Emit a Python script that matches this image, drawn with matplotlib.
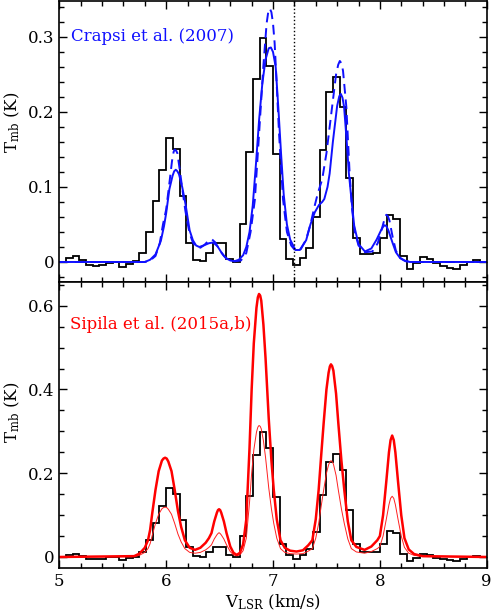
import numpy as np
import matplotlib
matplotlib.use('Agg')
import matplotlib.pyplot as plt
from matplotlib.ticker import MultipleLocator, FuncFormatter

plt.rcParams['font.family'] = ['DejaVu Serif']
plt.rcParams['mathtext.fontset'] = 'dejavuserif'

# observed spectrum (channels of 0.0625 km/s starting at 5 km/s)
v_start = 5.0
chan_width = 0.0625
t_obs = [0.000, 0.005, 0.008, 0.003, -0.004, -0.006, -0.004, -0.001, 0.000, -0.007,
         -0.003, 0.001, 0.012, 0.040, 0.081, 0.122, 0.165, 0.151, 0.088, 0.025,
         0.003, 0.001, 0.012, 0.025, 0.025, 0.004, 0.000, 0.051, 0.146, 0.244,
         0.299, 0.261, 0.144, 0.030, 0.004, -0.004, 0.005, 0.018, 0.060, 0.149,
         0.227, 0.247, 0.207, 0.112, 0.032, 0.011, 0.011, 0.012, 0.032, 0.062,
         0.057, 0.008, -0.010, -0.002, 0.006, 0.004, -0.002, -0.006, -0.008, -0.009,
         -0.004, 0.000, 0.002, 0.000]

# Crapsi et al. (2007) models
v_crapsi_solid = [5.00, 5.80, 5.85, 5.90, 5.95, 5.98, 6.00, 6.03, 6.06, 6.075,
                  6.09, 6.105, 6.12, 6.15, 6.18, 6.20, 6.22, 6.25, 6.28, 6.31,
                  6.35, 6.40, 6.44, 6.48, 6.52, 6.56, 6.60, 6.64, 6.68, 6.72,
                  6.75, 6.78, 6.81, 6.84, 6.87, 6.90, 6.93, 6.96, 6.98, 7.00,
                  7.025, 7.05, 7.075, 7.10, 7.13, 7.16, 7.21, 7.25, 7.31, 7.35,
                  7.39, 7.43, 7.46, 7.48, 7.51, 7.53, 7.56, 7.60, 7.62, 7.635,
                  7.65, 7.665, 7.69, 7.71, 7.74, 7.76, 7.80, 7.86, 7.92, 7.97,
                  8.01, 8.03, 8.045, 8.06, 8.08, 8.12, 8.15, 8.185, 8.23, 8.28,
                  9.00]
t_crapsi_solid = [0.0, 0.0, 0.003, 0.010, 0.028, 0.048, 0.065, 0.097, 0.115, 0.121,
                  0.123, 0.121, 0.117, 0.100, 0.078, 0.060, 0.042, 0.029, 0.022, 0.020,
                  0.022, 0.025, 0.026, 0.021, 0.012, 0.005, 0.002, 0.001, 0.003, 0.009,
                  0.020, 0.040, 0.075, 0.130, 0.190, 0.238, 0.270, 0.285, 0.286, 0.280,
                  0.260, 0.205, 0.145, 0.090, 0.050, 0.030, 0.016, 0.016, 0.029, 0.050,
                  0.066, 0.076, 0.080, 0.084, 0.100, 0.118, 0.160, 0.208, 0.221, 0.224,
                  0.219, 0.207, 0.160, 0.118, 0.075, 0.048, 0.024, 0.014, 0.018, 0.030,
                  0.042, 0.047, 0.049, 0.048, 0.042, 0.025, 0.013, 0.006, 0.002, 0.0,
                  0.0]

v_crapsi_dash = [5.00, 5.80, 5.85, 5.90, 5.94, 5.97, 6.00, 6.03, 6.055, 6.07,
                 6.08, 6.095, 6.105, 6.13, 6.16, 6.18, 6.20, 6.22, 6.25, 6.28,
                 6.32, 6.36, 6.40, 6.43, 6.46, 6.50, 6.54, 6.58, 6.64, 6.70,
                 6.75, 6.79, 6.83, 6.87, 6.91, 6.94, 6.955, 6.97, 6.985, 7.00,
                 7.015, 7.03, 7.056, 7.094, 7.13, 7.17, 7.21, 7.26, 7.31, 7.35,
                 7.39, 7.42, 7.46, 7.50, 7.53, 7.56, 7.59, 7.61, 7.625, 7.64,
                 7.655, 7.686, 7.717, 7.74, 7.765, 7.80, 7.86, 7.93, 7.98, 8.02,
                 8.045, 8.06, 8.075, 8.09, 8.12, 8.15, 8.19, 8.24, 8.30, 9.00]
t_crapsi_dash = [0.0, 0.0, 0.002, 0.008, 0.025, 0.050, 0.070, 0.105, 0.135, 0.147,
                 0.150, 0.148, 0.145, 0.120, 0.088, 0.068, 0.052, 0.038, 0.026, 0.020,
                 0.019, 0.023, 0.029, 0.030, 0.026, 0.016, 0.008, 0.003, 0.001, 0.002,
                 0.012, 0.040, 0.083, 0.172, 0.262, 0.318, 0.333, 0.338, 0.333, 0.318,
                 0.292, 0.250, 0.172, 0.083, 0.040, 0.022, 0.015, 0.017, 0.030, 0.050,
                 0.075, 0.092, 0.110, 0.145, 0.180, 0.215, 0.250, 0.263, 0.268, 0.265,
                 0.255, 0.207, 0.118, 0.070, 0.040, 0.022, 0.013, 0.014, 0.025, 0.045,
                 0.058, 0.063, 0.061, 0.055, 0.033, 0.015, 0.005, 0.001, 0.0, 0.0]

# Sipila et al. (2015a,b) models
v_sipila = [5.00, 5.70, 5.75, 5.80, 5.83, 5.85, 5.87, 5.90, 5.93, 5.96,
            5.975, 5.99, 6.005, 6.02, 6.05, 6.08, 6.11, 6.14, 6.175, 6.22,
            6.27, 6.32, 6.37, 6.40, 6.424, 6.45, 6.475, 6.485, 6.495, 6.505,
            6.515, 6.54, 6.565, 6.60, 6.63, 6.66, 6.69, 6.72, 6.75, 6.78,
            6.80, 6.82, 6.845, 6.858, 6.869, 6.88, 6.89, 6.91, 6.93, 6.96,
            6.985, 7.007, 7.035, 7.07, 7.11, 7.16, 7.22, 7.28, 7.33, 7.368,
            7.40, 7.427, 7.45, 7.474, 7.50, 7.52, 7.532, 7.542, 7.553, 7.565,
            7.59, 7.611, 7.64, 7.667, 7.70, 7.733, 7.78, 7.857, 7.92, 7.976,
            8.00, 8.03, 8.06, 8.085, 8.10, 8.115, 8.13, 8.145, 8.17, 8.20,
            8.23, 8.27, 8.32, 8.40, 9.00]
t_sipila_thick = [0.000, 0.002, 0.008, 0.022, 0.040, 0.065, 0.105, 0.160, 0.205, 0.230,
                  0.235, 0.237, 0.235, 0.228, 0.205, 0.160, 0.110, 0.072, 0.040, 0.022,
                  0.017, 0.022, 0.034, 0.045, 0.057, 0.085, 0.106, 0.112, 0.114, 0.112,
                  0.106, 0.085, 0.057, 0.025, 0.010, 0.005, 0.010, 0.030, 0.090, 0.260,
                  0.400, 0.510, 0.595, 0.620, 0.628, 0.624, 0.612, 0.555, 0.475, 0.330,
                  0.230, 0.160, 0.090, 0.040, 0.022, 0.015, 0.013, 0.016, 0.028, 0.040,
                  0.090, 0.160, 0.240, 0.320, 0.400, 0.440, 0.455, 0.460, 0.456, 0.445,
                  0.390, 0.320, 0.230, 0.160, 0.085, 0.040, 0.024, 0.017, 0.025, 0.040,
                  0.050, 0.100, 0.180, 0.250, 0.279, 0.290, 0.279, 0.250, 0.180, 0.100,
                  0.045, 0.018, 0.007, 0.002, 0.000]
t_sipila_thin = [0.000, 0.001, 0.004, 0.011, 0.020, 0.032, 0.052, 0.080, 0.102, 0.115,
                 0.118, 0.119, 0.118, 0.114, 0.102, 0.080, 0.055, 0.036, 0.020, 0.011,
                 0.009, 0.011, 0.017, 0.023, 0.029, 0.043, 0.053, 0.056, 0.058, 0.056,
                 0.053, 0.043, 0.029, 0.013, 0.005, 0.003, 0.005, 0.015, 0.045, 0.130,
                 0.200, 0.255, 0.298, 0.310, 0.314, 0.312, 0.306, 0.278, 0.238, 0.165,
                 0.115, 0.080, 0.045, 0.020, 0.011, 0.008, 0.007, 0.008, 0.014, 0.020,
                 0.045, 0.080, 0.120, 0.160, 0.200, 0.220, 0.227, 0.230, 0.228, 0.222,
                 0.195, 0.160, 0.115, 0.080, 0.043, 0.020, 0.012, 0.009, 0.013, 0.020,
                 0.025, 0.050, 0.090, 0.125, 0.140, 0.145, 0.140, 0.125, 0.090, 0.050,
                 0.023, 0.009, 0.004, 0.001, 0.000]

edges = v_start + chan_width * np.arange(len(t_obs) + 1)

fig = plt.figure(figsize=(4.91, 6.12), dpi=100)
ax1 = fig.add_axes([0.1208, 0.5392, 0.8705, 0.4592])
ax2 = fig.add_axes([0.1208, 0.0719, 0.8705, 0.4673])


def yfmt(val, pos):
    if abs(val) < 1e-9:
        return '0'
    return '%.1f' % val


for ax in (ax1, ax2):
    ax.stairs(t_obs, edges, baseline=None, color='black', lw=1.3)
    ax.set_xlim(5, 9)
    ax.xaxis.set_major_locator(MultipleLocator(1))
    ax.xaxis.set_minor_locator(MultipleLocator(0.2))
    ax.tick_params(which='both', direction='in', top=True, right=True, width=1.0, labelsize=12)
    ax.tick_params(which='major', length=6)
    ax.tick_params(which='minor', length=3.5)
    ax.yaxis.set_major_formatter(FuncFormatter(yfmt))
    for s in ax.spines.values():
        s.set_linewidth(1.2)
    ax.set_ylabel(r'T$_{\rm mb}$ (K)', fontsize=12)

ax1.yaxis.set_label_coords(-0.088, 0.57)
ax2.yaxis.set_label_coords(-0.088, 0.545)

# top panel
ax1.plot(v_crapsi_solid, t_crapsi_solid, color='#1010ff', lw=1.4, solid_joinstyle='round')
ax1.plot(v_crapsi_dash, t_crapsi_dash, color='#1010ff', lw=1.4, ls=(0, (5, 3)))
ax1.axvline(7.2, color='black', lw=1.0, ls=':')
ax1.set_ylim(-0.0267, 0.348)
ax1.yaxis.set_major_locator(MultipleLocator(0.1))
ax1.yaxis.set_minor_locator(MultipleLocator(0.02))
ax1.tick_params(labelbottom=False)
ax1.text(5.11, 0.3, 'Crapsi et al. (2007)', color='#1010ff', fontsize=12, va='center')

# bottom panel
ax2.plot(v_sipila, t_sipila_thin, color='#ff2020', lw=0.7, solid_joinstyle='round')
ax2.plot(v_sipila, t_sipila_thick, color='#ff0000', lw=1.8, solid_joinstyle='round')
ax2.set_ylim(-0.0263, 0.6566)
ax2.yaxis.set_major_locator(MultipleLocator(0.2))
ax2.yaxis.set_minor_locator(MultipleLocator(0.05))
ax2.text(5.1, 0.555, 'Sipila et al. (2015a,b)', color='#ff0000', fontsize=12, va='center')
ax2.set_xlabel(r'V$_{\rm LSR}$ (km/s)', fontsize=12, labelpad=2)

fig.savefig('out.png', dpi=100)
